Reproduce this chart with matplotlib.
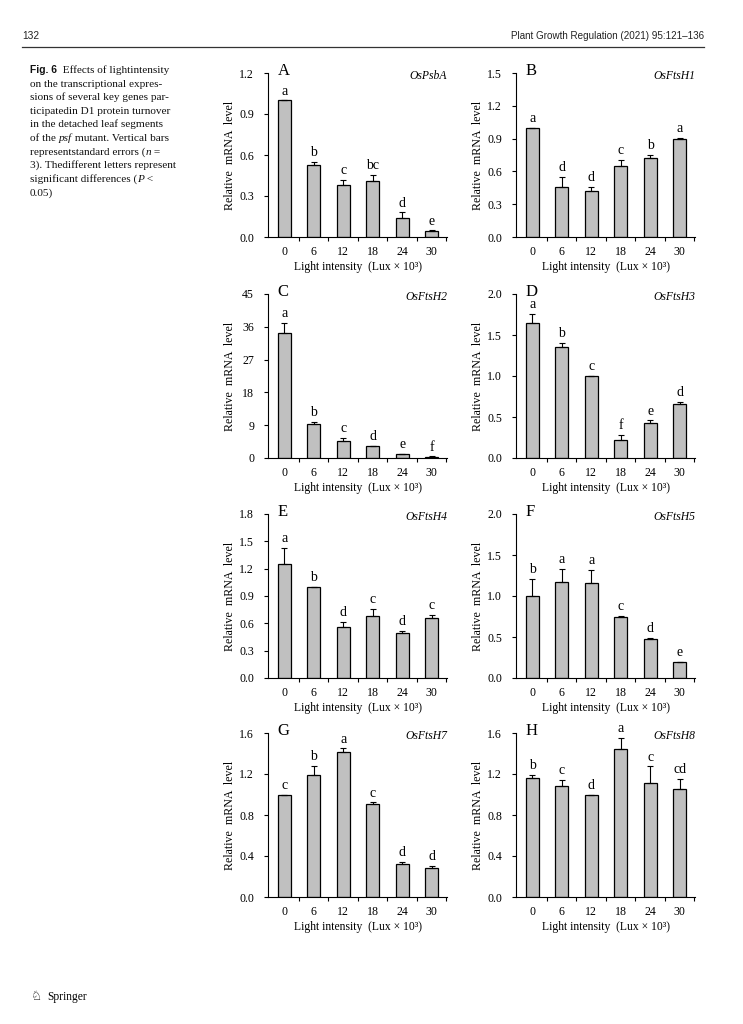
import matplotlib
matplotlib.use("Agg")
import matplotlib.pyplot as plt
import numpy as np

# ---------------- data ----------------
light = ["0", "6", "12", "18", "24", "30"]

genes = ["OsPsbA", "OsFtsH1", "OsFtsH2", "OsFtsH3",
         "OsFtsH4", "OsFtsH5", "OsFtsH7", "OsFtsH8"]
panel_ids = ["A", "B", "C", "D", "E", "F", "G", "H"]

A_vals = [1.00, 0.53, 0.38, 0.41, 0.14, 0.045]
A_err = [0.0, 0.02, 0.04, 0.045, 0.04, 0.004]
A_let = ["a", "b", "c", "bc", "d", "e"]

B_vals = [1.00, 0.46, 0.42, 0.65, 0.72, 0.90]
B_err = [0.0, 0.09, 0.04, 0.055, 0.03, 0.008]
B_let = ["a", "d", "d", "c", "b", "a"]

C_vals = [34.3, 9.3, 4.8, 3.2, 1.1, 0.4]
C_err = [2.8, 0.6, 0.8, 0.1, 0.1, 0.05]
C_let = ["a", "b", "c", "d", "e", "f"]

D_vals = [1.65, 1.35, 1.00, 0.22, 0.43, 0.66]
D_err = [0.11, 0.05, 0.0, 0.06, 0.03, 0.02]
D_let = ["a", "b", "c", "f", "e", "d"]

E_vals = [1.25, 1.00, 0.56, 0.68, 0.49, 0.66]
E_err = [0.18, 0.0, 0.06, 0.075, 0.025, 0.035]
E_let = ["a", "b", "d", "c", "d", "c"]

F_vals = [1.00, 1.17, 1.16, 0.75, 0.475, 0.20]
F_err = [0.21, 0.16, 0.16, 0.006, 0.015, 0.0]
F_let = ["b", "a", "a", "c", "d", "e"]

G_vals = [1.00, 1.19, 1.415, 0.905, 0.32, 0.28]
G_err = [0.0, 0.09, 0.035, 0.018, 0.02, 0.025]
G_let = ["c", "b", "a", "c", "d", "d"]

H_vals = [1.16, 1.08, 1.00, 1.445, 1.11, 1.05]
H_err = [0.03, 0.06, 0.0, 0.105, 0.165, 0.10]
H_let = ["b", "c", "d", "a", "c", "cd"]

y_max = [1.2, 1.5, 45, 2.0, 1.8, 2.0, 1.6, 1.6]
y_step = [0.3, 0.3, 9, 0.5, 0.3, 0.5, 0.4, 0.4]
y_fmt = ["%.1f", "%.1f", "%d", "%.1f", "%.1f", "%.1f", "%.1f", "%.1f"]

caption_lines = [
    [("Fig. 6", "figb"), ("  Effects of lightintensity", "rm")],
    [("on the transcriptional expres-", "rm")],
    [("sions of several key genes par-", "rm")],
    [("ticipatedin D1 protein turnover", "rm")],
    [("in the detached leaf segments", "rm")],
    [("of the ", "rm"), ("psf", "it"), (" mutant. Vertical bars", "rm")],
    [("representstandard errors (", "rm"), ("n", "it"), (" =", "rm")],
    [("3). Thedifferent letters represent", "rm")],
    [("significant differences (", "rm"), ("P", "it"), (" <", "rm")],
    [("0.05)", "rm")],
]

# ---------------- figure ----------------
W, H = 743, 1024
fig = plt.figure(figsize=(W / 100, H / 100), dpi=100)
fig.patch.set_facecolor("white")
SERIF = "Liberation Serif"

# header
fig.text(22 / W, 1 - 39 / H, "132", family="Liberation Sans", fontsize=7.3,
         va="baseline", ha="left", color="#222222")
fig.text(704 / W, 1 - 39 / H, "Plant Growth Regulation (2021) 95:121\u2013136",
         family="Liberation Sans", fontsize=7.1, va="baseline", ha="right",
         color="#222222")
fig.add_artist(plt.Line2D([22 / W, 704 / W], [1 - 47 / H, 1 - 47 / H],
                          color="#333333", lw=0.9))

# caption (rich text)
renderer = fig.canvas.get_renderer()
styles = {
    "figb": dict(family="Liberation Sans", fontweight="bold", fontsize=7.4),
    "rm": dict(family=SERIF, fontsize=8.1),
    "it": dict(family=SERIF, fontstyle="italic", fontsize=8.1),
}
y0 = 73
for k, line in enumerate(caption_lines):
    x = 30.0
    yy = y0 + k * 13.6
    for s, st in line:
        t = fig.text(x / W, 1 - yy / H, s, va="baseline", ha="left",
                     color="#111111", **styles[st])
        bb = t.get_window_extent(renderer=renderer)
        x += bb.width

# footer
fig.text(31 / W, 1 - 1000 / H, "\u2658", family="DejaVu Sans", fontsize=9,
         va="baseline", ha="left")
fig.text(47 / W, 1 - 1000 / H, "Springer", family=SERIF, fontsize=8.3,
         va="baseline", ha="left")

# panels
all_vals = [A_vals, B_vals, C_vals, D_vals, E_vals, F_vals, G_vals, H_vals]
all_err = [A_err, B_err, C_err, D_err, E_err, F_err, G_err, H_err]
all_let = [A_let, B_let, C_let, D_let, E_let, F_let, G_let, H_let]

col_left = [268, 516]
ax_w = 179
row_bottom = [237, 458, 678, 897]
ax_h = 164

x = np.arange(len(light))
for i in range(8):
    r, c = divmod(i, 2)
    left = col_left[c] / W
    bottom = 1 - row_bottom[r] / H
    ax = fig.add_axes([left, bottom, ax_w / W, ax_h / H])
    vals, err, let = all_vals[i], all_err[i], all_let[i]
    ax.bar(x, vals, width=0.43, color="#c0c0c0", edgecolor="black",
           linewidth=0.9, zorder=2)
    ax.errorbar(x, vals, yerr=[np.zeros(len(err)), err], fmt="none",
                ecolor="black", elinewidth=0.8, capsize=2.2, capthick=0.8,
                zorder=3)
    for xi, v, e, l in zip(x, vals, err, let):
        ax.annotate(l, (xi, v + e), xytext=(0, 2.0), textcoords="offset points",
                    ha="center", va="bottom", family=SERIF, fontsize=10)
    ax.set_xlim(-0.55, 5.52)
    ax.set_ylim(0, y_max[i])
    ticks = np.arange(0, y_max[i] + y_step[i] * 0.01, y_step[i])
    ax.set_yticks(ticks)
    ax.set_yticklabels([y_fmt[i] % t for t in ticks], family=SERIF, fontsize=8.6)
    ax.set_xticks(x)
    ax.set_xticklabels(light, family=SERIF, fontsize=8.6)
    ax.set_xticks(np.arange(0.5, 6.0, 1.0), minor=True)
    ax.tick_params(axis="x", which="major", length=0, pad=6.5)
    ax.tick_params(axis="x", which="minor", length=3, width=0.8, direction="out")
    ax.tick_params(axis="y", which="major", length=3, width=0.8,
                   direction="out", pad=7)
    for s in ["top", "right"]:
        ax.spines[s].set_visible(False)
    for s in ["left", "bottom"]:
        ax.spines[s].set_linewidth(0.8)
    ax.set_ylabel("Relative  mRNA  level", family=SERIF, fontsize=8.6)
    ax.yaxis.set_label_coords(-32 / ax_w, 0.5)
    ax.set_xlabel("Light intensity  (Lux \u00d7 10\u00b3)", family=SERIF,
                  fontsize=8.4)
    ax.xaxis.set_label_coords(0.5, -24 / ax_h)
    ax.text(0.055, 0.99, panel_ids[i], transform=ax.transAxes, family=SERIF,
            fontsize=12, va="baseline", ha="left")
    ax.text(1.0, 0.965, genes[i], transform=ax.transAxes, family=SERIF,
            fontstyle="italic", fontsize=8.4, va="baseline", ha="right")

fig.savefig("out.png", dpi=100)
